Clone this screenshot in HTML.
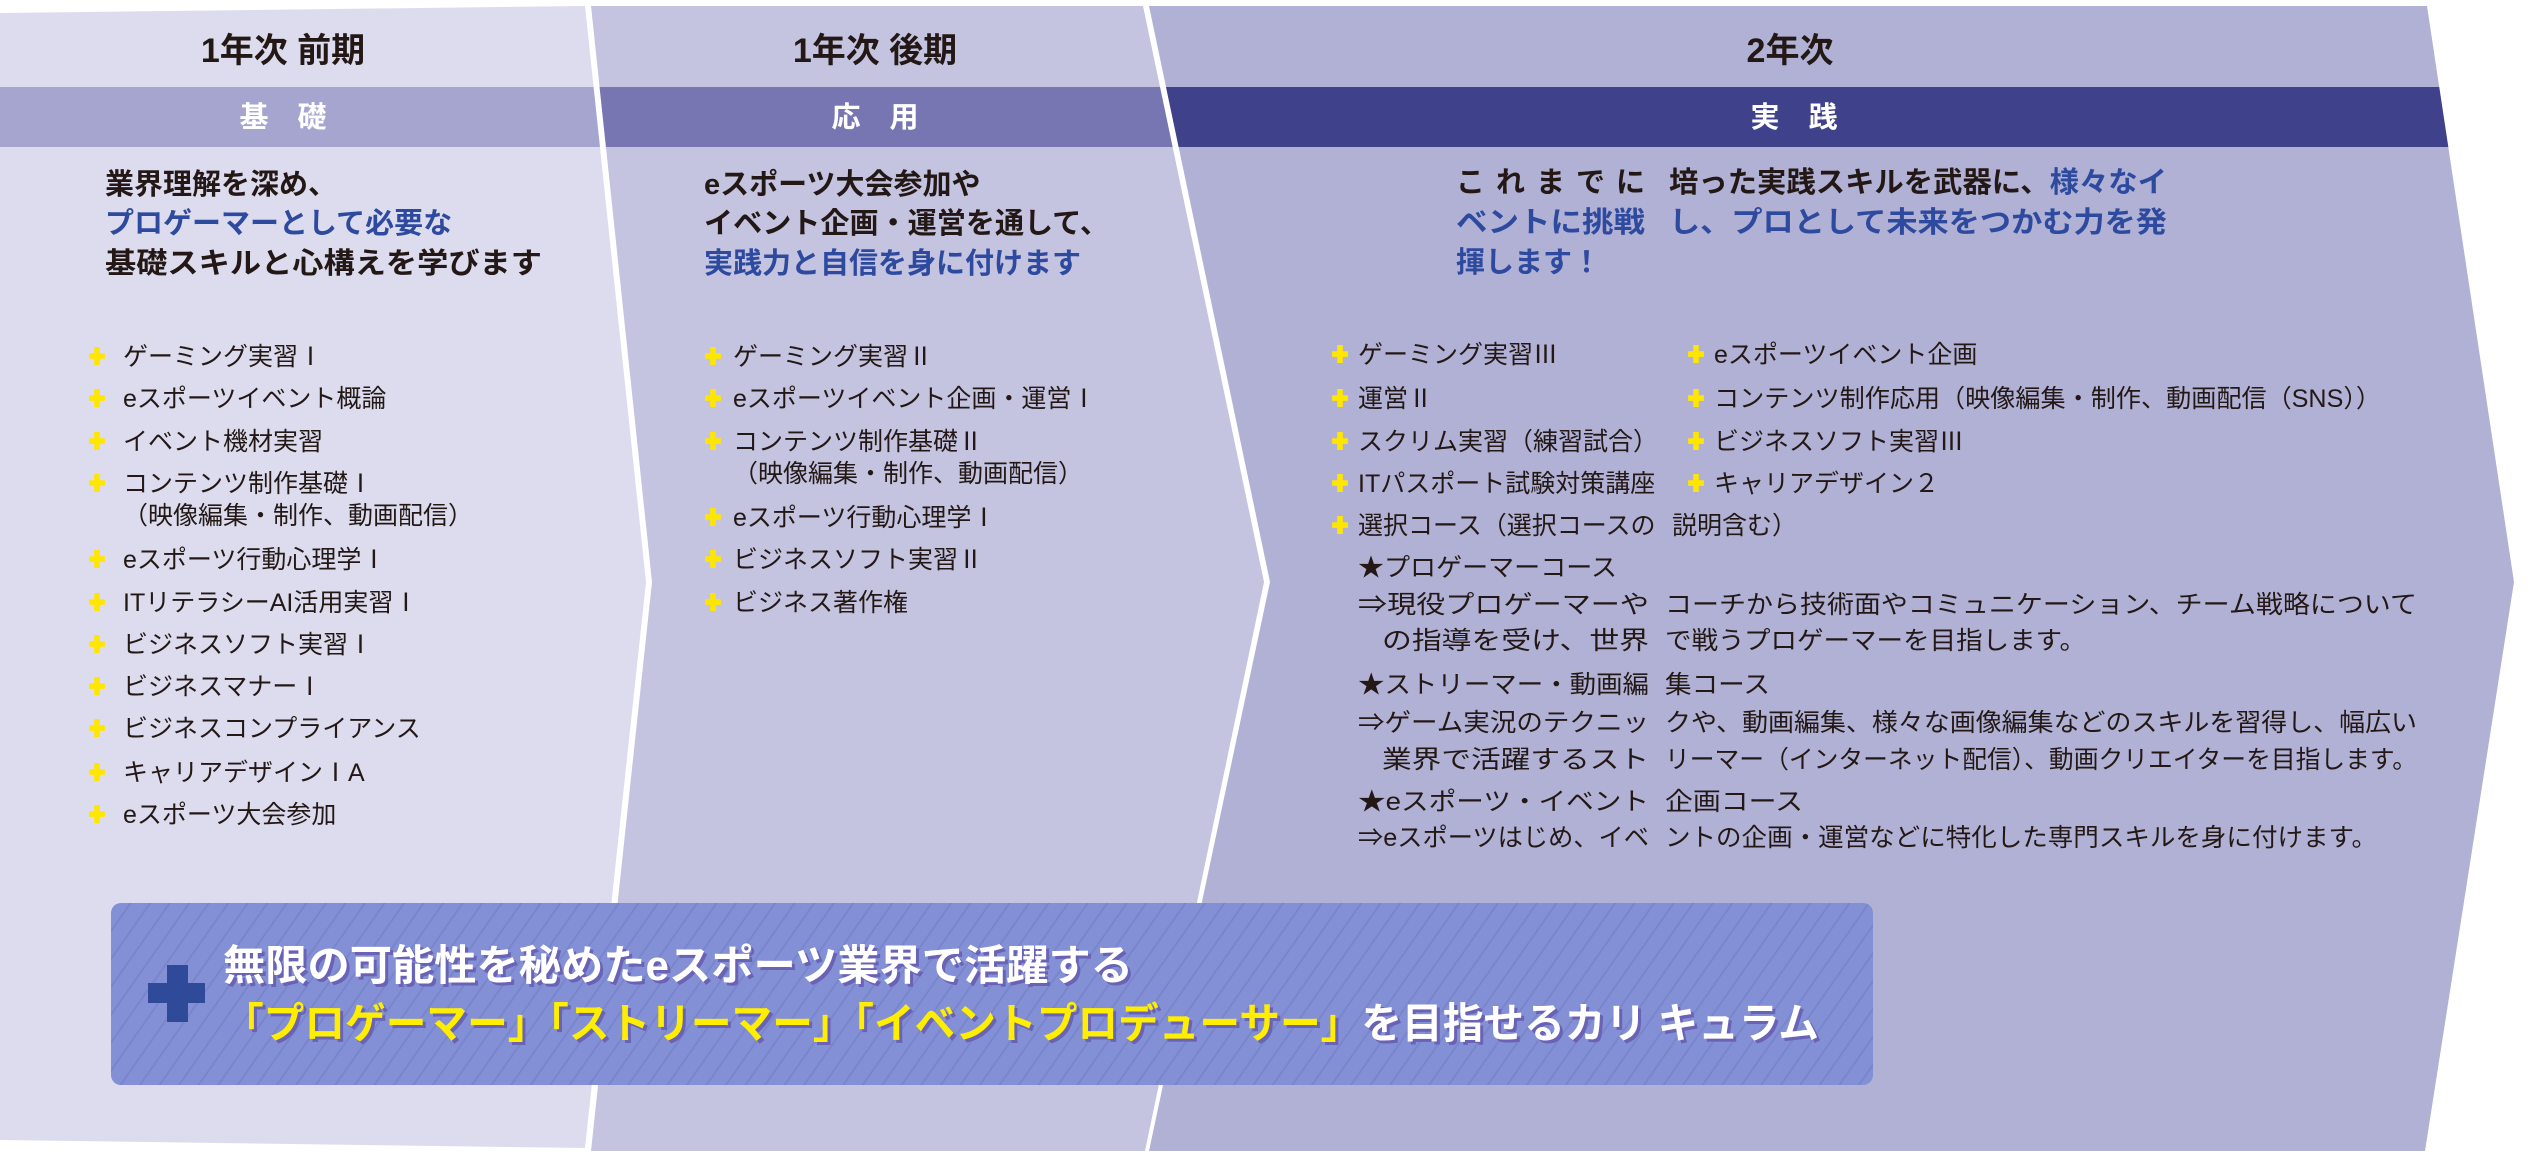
<!DOCTYPE html>
<html><head><meta charset="utf-8">
<style>
html,body{margin:0;padding:0;background:#fff;}
svg{display:block;}
text{font-family:"Liberation Sans","Noto Sans CJK JP",sans-serif;}
.h{font-size:34px;font-weight:700;fill:#231815;}
.b{font-size:29px;font-weight:700;fill:#fff;}
.i{font-size:29px;font-weight:700;fill:#231815;}
.ib{font-size:29px;font-weight:700;fill:#2e4a9e;}
.l{font-size:25px;fill:#231815;}
</style></head>
<body>
<svg width="2535" height="1151" viewBox="0 0 2535 1151" xmlns="http://www.w3.org/2000/svg">
<defs>
<symbol id="p" viewBox="0 0 14 16"><path d="M4.5 0h5v5.5H14v5H9.5V16h-5v-5.5H0v-5h4.5z" fill="#ffe600"/></symbol>
<clipPath id="c1"><polygon points="0,13 585,6 646,582 585,1148 0,1140"/></clipPath>
<clipPath id="c2"><polygon points="591,6 1143,6 1264,582 1145,1151 591,1151 652,582"/></clipPath>
<clipPath id="c3"><polygon points="1149,6 2427,6 2514,582 2425,1151 1149,1151 1270,582"/></clipPath>
<pattern id="st" width="16" height="16" patternUnits="userSpaceOnUse" patternTransform="rotate(35)">
<rect width="16" height="16" fill="#8490d6"/><rect width="2" height="16" fill="#7a86cc"/></pattern>
</defs>
<g clip-path="url(#c1)"><rect width="2535" height="1151" fill="#dcdcee"/><rect y="87" width="2535" height="60" fill="#a6a5d0"/></g>
<g clip-path="url(#c2)"><rect width="2535" height="1151" fill="#c4c3e0"/><rect y="87" width="2535" height="60" fill="#7776b3"/></g>
<g clip-path="url(#c3)"><rect width="2535" height="1151" fill="#b0b1d5"/><rect y="87" width="2535" height="60" fill="#3f428b"/></g>

<text class="h" x="283" y="62" text-anchor="middle">1年次 前期</text>
<text class="h" x="875" y="62" text-anchor="middle">1年次 後期</text>
<text class="h" x="1790" y="62" text-anchor="middle">2年次</text>
<text class="b" x="283" y="127" text-anchor="middle">基　礎</text>
<text class="b" x="875" y="127" text-anchor="middle">応　用</text>
<text class="b" x="1794" y="127" text-anchor="middle">実　践</text>

<text class="i" x="105" y="194">業界理解を深め、</text>
<text class="ib" x="105" y="233">プロゲーマーとして必要な</text>
<text class="i" x="105" y="273" textLength="437" lengthAdjust="spacingAndGlyphs">基礎スキルと心構えを学びます</text>
<text class="i" x="704" y="194">eスポーツ大会参加や</text>
<text class="i" x="704" y="233" textLength="405" lengthAdjust="spacingAndGlyphs">イベント企画・運営を通して、</text>
<text class="ib" x="704" y="273">実践力と自信を身に付けます</text>
<text class="i" x="1456" y="192" textLength="189" lengthAdjust="spacing">これまでに</text>
<text class="i" x="1669" y="192" textLength="498" lengthAdjust="spacingAndGlyphs">培った実践スキルを武器に、<tspan fill="#2e4a9e">様々なイ</tspan></text>
<text class="ib" x="1456" y="232" textLength="189" lengthAdjust="spacingAndGlyphs">ベントに挑戦</text>
<text class="ib" x="1669" y="232" textLength="498" lengthAdjust="spacingAndGlyphs">し、プロとして未来をつかむ力を発</text>
<text class="ib" x="1456" y="272">揮します！</text>

<g>
<use href="#p" x="89" y="347" width="16" height="18"/><text class="l" x="123" y="365">ゲーミング実習Ⅰ</text>
<use href="#p" x="89" y="389" width="16" height="18"/><text class="l" x="123" y="407">eスポーツイベント概論</text>
<use href="#p" x="89" y="432" width="16" height="18"/><text class="l" x="123" y="450">イベント機材実習</text>
<use href="#p" x="89" y="474" width="16" height="18"/><text class="l" x="123" y="492">コンテンツ制作基礎Ⅰ</text>
<text class="l" x="123" y="524">（映像編集・制作、動画配信）</text>
<use href="#p" x="89" y="550" width="16" height="18"/><text class="l" x="123" y="568">eスポーツ行動心理学Ⅰ</text>
<use href="#p" x="89" y="593" width="16" height="18"/><text class="l" x="123" y="611">ITリテラシーAI活用実習Ⅰ</text>
<use href="#p" x="89" y="635" width="16" height="18"/><text class="l" x="123" y="653">ビジネスソフト実習Ⅰ</text>
<use href="#p" x="89" y="677" width="16" height="18"/><text class="l" x="123" y="695">ビジネスマナーⅠ</text>
<use href="#p" x="89" y="719" width="16" height="18"/><text class="l" x="123" y="737">ビジネスコンプライアンス</text>
<use href="#p" x="89" y="763" width="16" height="18"/><text class="l" x="123" y="781">キャリアデザインⅠA</text>
<use href="#p" x="89" y="805" width="16" height="18"/><text class="l" x="123" y="823">eスポーツ大会参加</text>
</g>
<g>
<use href="#p" x="705" y="347" width="16" height="18"/><text class="l" x="733" y="365">ゲーミング実習Ⅱ</text>
<use href="#p" x="705" y="389" width="16" height="18"/><text class="l" x="733" y="407">eスポーツイベント企画・運営Ⅰ</text>
<use href="#p" x="705" y="432" width="16" height="18"/><text class="l" x="733" y="450">コンテンツ制作基礎Ⅱ</text>
<text class="l" x="733" y="482">（映像編集・制作、動画配信）</text>
<use href="#p" x="705" y="508" width="16" height="18"/><text class="l" x="733" y="526">eスポーツ行動心理学Ⅰ</text>
<use href="#p" x="705" y="550" width="16" height="18"/><text class="l" x="733" y="568">ビジネスソフト実習Ⅱ</text>
<use href="#p" x="705" y="593" width="16" height="18"/><text class="l" x="733" y="611">ビジネス著作権</text>
</g>
<g>
<use href="#p" x="1332" y="345" width="16" height="18"/><text class="l" x="1358" y="363">ゲーミング実習Ⅲ</text>
<use href="#p" x="1332" y="389" width="16" height="18"/><text class="l" x="1358" y="407">運営Ⅱ</text>
<use href="#p" x="1332" y="432" width="16" height="18"/><text class="l" x="1358" y="450">スクリム実習（練習試合）</text>
<use href="#p" x="1332" y="474" width="16" height="18"/><text class="l" x="1358" y="492">ITパスポート試験対策講座</text>
<use href="#p" x="1332" y="516" width="16" height="18"/><text class="l" x="1358" y="534">選択コース（選択コースの</text>
<use href="#p" x="1688" y="345" width="16" height="18"/><text class="l" x="1714" y="363">eスポーツイベント企画</text>
<use href="#p" x="1688" y="389" width="16" height="18"/><text class="l" x="1714" y="407" textLength="667" lengthAdjust="spacingAndGlyphs">コンテンツ制作応用（映像編集・制作、動画配信（SNS））</text>
<use href="#p" x="1688" y="432" width="16" height="18"/><text class="l" x="1714" y="450">ビジネスソフト実習Ⅲ</text>
<use href="#p" x="1688" y="474" width="16" height="18"/><text class="l" x="1714" y="492">キャリアデザイン２</text>
<text class="l" x="1672" y="534">説明含む）</text>

<text class="l" x="1358" y="576" textLength="259" lengthAdjust="spacingAndGlyphs">★プロゲーマーコース</text>
<text class="l" x="1358" y="613" textLength="291" lengthAdjust="spacingAndGlyphs">⇒現役プロゲーマーや</text>
<text class="l" x="1665" y="613" textLength="752" lengthAdjust="spacingAndGlyphs">コーチから技術面やコミュニケーション、チーム戦略について</text>
<text class="l" x="1382" y="649" textLength="267" lengthAdjust="spacingAndGlyphs">の指導を受け、世界</text>
<text class="l" x="1665" y="649" textLength="421" lengthAdjust="spacingAndGlyphs">で戦うプロゲーマーを目指します。</text>
<text class="l" x="1358" y="693" textLength="291" lengthAdjust="spacingAndGlyphs">★ストリーマー・動画編</text>
<text class="l" x="1665" y="693" textLength="105" lengthAdjust="spacingAndGlyphs">集コース</text>
<text class="l" x="1358" y="731" textLength="291" lengthAdjust="spacingAndGlyphs">⇒ゲーム実況のテクニッ</text>
<text class="l" x="1665" y="731" textLength="752" lengthAdjust="spacingAndGlyphs">クや、動画編集、様々な画像編集などのスキルを習得し、幅広い</text>
<text class="l" x="1382" y="768" textLength="267" lengthAdjust="spacingAndGlyphs">業界で活躍するスト</text>
<text class="l" x="1665" y="768" textLength="752" lengthAdjust="spacingAndGlyphs">リーマー（インターネット配信）、動画クリエイターを目指します。</text>
<text class="l" x="1358" y="810" textLength="291" lengthAdjust="spacingAndGlyphs">★eスポーツ・イベント</text>
<text class="l" x="1665" y="810" textLength="138" lengthAdjust="spacingAndGlyphs">企画コース</text>
<text class="l" x="1358" y="846" textLength="291" lengthAdjust="spacingAndGlyphs">⇒eスポーツはじめ、イベ</text>
<text class="l" x="1665" y="846" textLength="712" lengthAdjust="spacingAndGlyphs">ントの企画・運営などに特化した専門スキルを身に付けます。</text>
</g>

<rect x="111" y="903" width="1762" height="182" rx="10" fill="url(#st)"/>
<path d="M167 965h21v18h17v20h-17v19h-21v-19h-19v-20h19z" fill="#2f4a99"/>
<g font-size="42" font-weight="700">
<text x="226" y="983" fill="#6a62b5" textLength="910" lengthAdjust="spacingAndGlyphs">無限の可能性を秘めたeスポーツ業界で活躍する</text>
<text x="223" y="980" fill="#fff" textLength="910" lengthAdjust="spacingAndGlyphs">無限の可能性を秘めたeスポーツ業界で活躍する</text>
<text x="226" y="1041" fill="#6a62b5" textLength="1596" lengthAdjust="spacingAndGlyphs">「プロゲーマー」「ストリーマー」「イベントプロデューサー」を目指せるカリ キュラム</text>
<text x="223" y="1038" fill="#fff" textLength="1596" lengthAdjust="spacingAndGlyphs"><tspan fill="#ffee00">「プロゲーマー」「ストリーマー」「イベントプロデューサー」</tspan>を目指せるカリ キュラム</text>
</g>
</svg>
</body></html>
